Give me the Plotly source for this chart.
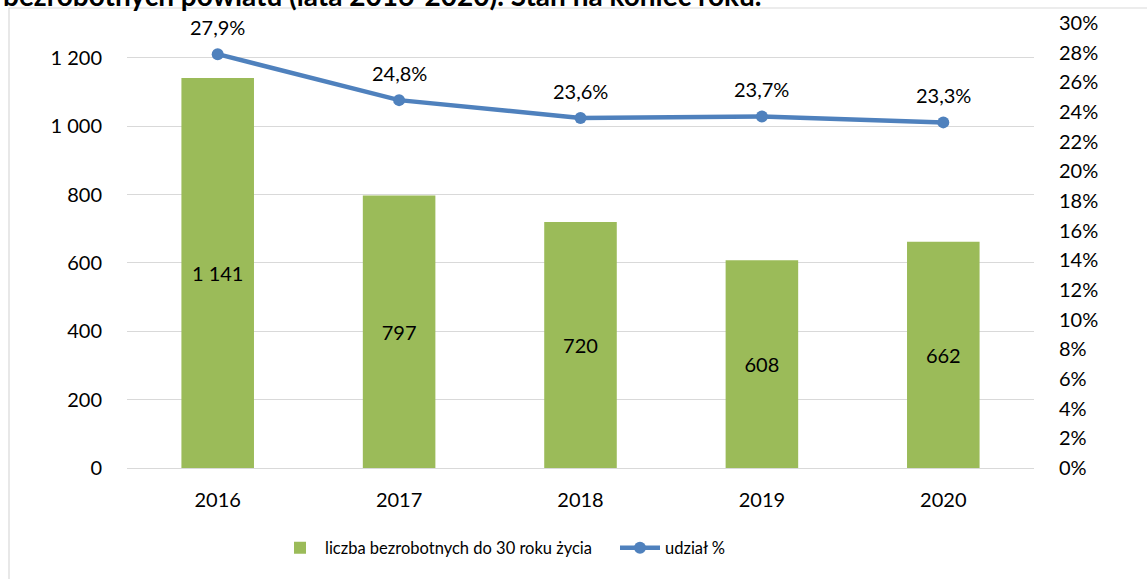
import plotly.graph_objects as go

years = ["2016", "2017", "2018", "2019", "2020"]
unemployed_under30 = [1141, 797, 720, 608, 662]
share = [0.279, 0.248, 0.236, 0.237, 0.233]
left_ticks = [0, 200, 400, 600, 800, 1000, 1200]
right_ticks = [0, 0.02, 0.04, 0.06, 0.08, 0.10, 0.12, 0.14, 0.16, 0.18, 0.20, 0.22, 0.24, 0.26, 0.28, 0.30]
title_text = "bezrobotnych powiatu (lata 2016-2020). Stan na koniec roku."

FONT = "Lato"
W, H = 1147, 579
L, R, T, B = 127, 113, 23, 111
pw, ph = W - L - R, H - T - B

fig = go.Figure()
fig.add_trace(go.Bar(
    x=years, y=unemployed_under30, name="liczba bezrobotnych do 30 roku życia",
    marker=dict(color="#9BBB59", line=dict(width=0)), width=0.4,
    texttemplate="%{y:,}", textposition="inside", insidetextanchor="middle",
    textangle=0, textfont=dict(family=FONT, size=20, color="#000000"),
    yaxis="y",
))
fig.add_trace(go.Scatter(
    x=years, y=share, name="udział %", mode="lines+markers",
    line=dict(color="#4F81BD", width=4.5), marker=dict(color="#4F81BD", size=12),
    yaxis="y2",
))
for i, v in enumerate(share):
    fig.add_annotation(x=i, y=v, xref="x", yref="y2", yshift=27,
                       text=f"{v*100:.1f}%".replace(".", ","), showarrow=False,
                       font=dict(family=FONT, size=20, color="#000000"))

# partially visible title
fig.add_annotation(x=-(L - 1) / pw, y=1 + (T - 14) / ph, xref="paper", yref="paper",
                   xanchor="left", yanchor="bottom", text=f"<b>{title_text}</b>",
                   showarrow=False, font=dict(family=FONT, size=28, color="#000000"))

# chart frame
fig.add_shape(type="rect", xref="paper", yref="paper",
              x0=-(L - 9) / pw, x1=1.3, y0=-0.5, y1=1 + (T - 8) / ph,
              line=dict(color="#D9D9D9", width=1.2), fillcolor="rgba(0,0,0,0)", layer="below")

fig.update_layout(
    width=W, height=H, margin=dict(l=L, r=R, t=T, b=B, autoexpand=False),
    paper_bgcolor="white", plot_bgcolor="white",
    separators=", ",
    font=dict(family=FONT, size=20, color="#000000"),
    bargap=0.6,
    xaxis=dict(type="category", range=[-0.5, len(years) - 0.5], showgrid=False,
               showline=False, ticks="outside", ticklen=14,
               tickcolor="rgba(0,0,0,0)", tickfont=dict(size=20)),
    yaxis=dict(range=[0, 1302], tickvals=left_ticks, tickformat=",", showgrid=True,
               gridcolor="#D9D9D9", gridwidth=1, zeroline=True, zerolinecolor="#D9D9D9",
               zerolinewidth=1.3, ticks="outside", ticklen=20, tickcolor="rgba(0,0,0,0)",
               showline=False),
    yaxis2=dict(range=[0, 0.30], tickvals=right_ticks, tickformat=".0%", overlaying="y",
                side="right", showgrid=False, zeroline=False, ticks="outside", ticklen=20,
                tickcolor="rgba(0,0,0,0)", showline=False),
    legend=dict(orientation="h", x=(275 - L) / pw, xanchor="left", y=-(548 - (H - B)) / ph,
                yanchor="middle", font=dict(size=16.5), itemwidth=40, entrywidth=285,
                bgcolor="rgba(0,0,0,0)"),
)

fig.write_html("out.html", config={"displayModeBar": False},
               post_script="document.body.style.margin='0';document.body.style.overflow='hidden';")
